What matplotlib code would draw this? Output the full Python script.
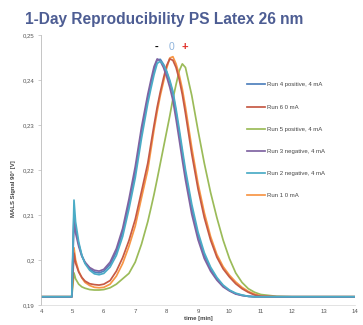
import matplotlib

matplotlib.use("Agg")
import matplotlib.pyplot as plt
import numpy as np

plt.rcParams["font.family"] = ["Liberation Sans", "DejaVu Sans"]

# shared time grid [min]
time_min = [4.0, 4.98, 5.05, 5.1, 5.2, 5.3, 5.4, 5.55, 5.7, 5.85, 6.0, 6.2, 6.4, 6.6, 6.8,
            7.0, 7.2, 7.4, 7.5, 7.6, 7.7, 7.8, 7.9, 8.0, 8.1, 8.2, 8.3, 8.4, 8.5, 8.6,
            8.8, 9.0, 9.2, 9.4, 9.6, 9.8, 10.0, 10.2, 10.4, 10.6, 10.8, 11.0, 11.5, 12.0,
            13.0, 14.0]

run4_pos = [.1918, .1918, .2105, .2070, .2035, .2010, .1994, .1980, .1973, .1971, .1975, .1990,
            .2018, .2062, .2125, .2195, .2285, .2360, .2392, .2422, .2445, .2446, .2435, .2418,
            .2396, .2370, .2328, .2283, .2237, .2192, .2115, .2055, .2010, .1980, .1958, .1942,
            .1932, .1925, .1921, .1919, .1918, .1918, .1918, .1918, .1918, .1918]
run6_0ma = [.1918, .1918, .2015, .1993, .1973, .1961, .1953, .1947, .1945, .1944, .1946, .1954,
            .1975, .2005, .2043, .2090, .2152, .2215, .2258, .2300, .2340, .2374, .2404, .2432,
            .2447, .2444, .2428, .2402, .2368, .2326, .2236, .2158, .2094, .2044, .2006, .1980,
            .1962, .1947, .1936, .1928, .1922, .1919, .1918, .1918, .1918, .1918]
run5_pos = [.1918, .1918, .1971, .1958, .1946, .1940, .1937, .1934, .1933, .1933, .1934, .1938,
            .1946, .1958, .1970, .1995, .2035, .2085, .2115, .2146, .2180, .2215, .2250, .2285,
            .2320, .2358, .2390, .2420, .2436, .2428, .2366, .2288, .2215, .2150, .2094, .2044,
            .2003, .1971, .1950, .1936, .1928, .1923, .1919, .1918, .1918, .1918]
run3_neg = [.1918, .1918, .2090, .2060, .2030, .2008, .1995, .1983, .1977, .1975, .1979, .1995,
            .2025, .2070, .2135, .2207, .2295, .2368, .2400, .2430, .2447, .2442, .2428, .2408,
            .2384, .2355, .2313, .2268, .2222, .2178, .2102, .2045, .2003, .1975, .1955, .1940,
            .1931, .1924, .1921, .1919, .1918, .1918, .1918, .1918, .1918, .1918]
run2_neg = [.1918, .1918, .2133, .2085, .2040, .2010, .1992, .1977, .1969, .1967, .1970, .1984,
            .2010, .2052, .2113, .2182, .2270, .2348, .2381, .2412, .2437, .2442, .2434, .2420,
            .2400, .2375, .2336, .2292, .2246, .2201, .2124, .2062, .2016, .1984, .1961, .1944,
            .1933, .1926, .1922, .1919, .1918, .1918, .1918, .1918, .1918, .1918]
run1_0ma = [.1918, .1918, .2027, .2000, .1975, .1960, .1950, .1943, .1939, .1938, .1939, .1946,
            .1964, .1992, .2030, .2075, .2138, .2200, .2245, .2290, .2330, .2366, .2396, .2426,
            .2449, .2452, .2436, .2412, .2380, .2340, .2250, .2170, .2105, .2052, .2012, .1985,
            .1966, .1951, .1939, .1930, .1924, .1920, .1918, .1918, .1918, .1918]

run_labels = ["Run 4 positive, 4 mA", "Run 6 0 mA", "Run 5 positive, 4 mA",
              "Run 3 negative, 4 mA", "Run 2 negative, 4 mA", "Run 1 0 mA"]
run_colors = ["#4F81BD", "#C65A45", "#9BBB59", "#8064A2", "#4BACC6", "#F79646"]
runs = [run4_pos, run6_0ma, run5_pos, run3_neg, run2_neg, run1_0ma]

x_ticks = list(range(4, 15))
y_ticks = [0.19, 0.20, 0.21, 0.22, 0.23, 0.24, 0.25]
y_tick_labels = ["0,19", "0,2", "0,21", "0,22", "0,23", "0,24", "0,25"]

fig = plt.figure(figsize=(3.63, 3.25), dpi=100)
fig.patch.set_facecolor("white")
ax = fig.add_axes([0.113, 0.062, 0.865, 0.83])

# draw order so that the left group sits on top like the original
for idx in [2, 5, 1, 0, 3, 4]:
    ax.plot(time_min, runs[idx], color=run_colors[idx], linewidth=1.25,
            label=run_labels[idx], solid_joinstyle="round")

ax.set_xlim(4, 14)
ax.set_ylim(0.19, 0.25)
ax.set_xticks(x_ticks)
ax.set_xticklabels([str(v) for v in x_ticks], fontsize=4.3, color="#555555")
ax.set_yticks(y_ticks)
ax.set_yticklabels(y_tick_labels, fontsize=4.3, color="#555555")
ax.tick_params(axis="y", length=2.5, width=0.5, color="#bbbbbb", pad=2)
ax.tick_params(axis="x", length=0, pad=3)

for side in ["top", "right"]:
    ax.spines[side].set_visible(False)
ax.spines["left"].set_color("#bbbbbb")
ax.spines["left"].set_linewidth(0.6)
ax.spines["bottom"].set_color("#d8d8d8")
ax.spines["bottom"].set_linewidth(0.5)

ax.set_xlabel("time [min]", fontsize=4.3, fontweight="bold", color="#444444", labelpad=1.5)
ax.set_ylabel("MALS Signal 90° [V]", fontsize=4.3, fontweight="bold", color="#444444")
ax.yaxis.set_label_coords(-0.08, 0.43)

# peak markers
ax.text(7.69, 0.2473, "-", fontsize=8, fontweight="bold", color="black", ha="center", va="center")
ax.text(8.17, 0.2473, "0", fontsize=7.5, color="#8fb4dc", ha="center", va="center")
ax.text(8.59, 0.2473, "+", fontsize=8, fontweight="bold", color="#e0302a", ha="center", va="center")

handles, labels = ax.get_legend_handles_labels()
order = [labels.index(lbl) for lbl in run_labels]
leg = ax.legend([handles[i] for i in order], [labels[i] for i in order],
                loc="upper left", bbox_to_anchor=(0.64, 0.845), frameon=False,
                fontsize=4.3, handlelength=3.0, handletextpad=0.3, labelspacing=2.85,
                labelcolor="#444444")

fig.text(0.068, 0.94, "1-Day Reproducibility PS Latex 26 nm", fontsize=11.2,
         fontweight="bold", color="#4d5d93", ha="left", va="center")

fig.savefig("out.png", dpi=100, facecolor="white")
